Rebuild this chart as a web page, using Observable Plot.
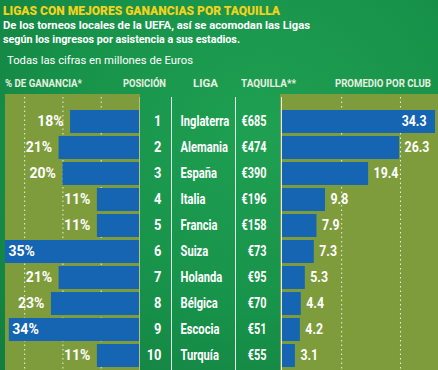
<!DOCTYPE html>
<html>
<head>
<meta charset="utf-8">
<script src="https://cdn.jsdelivr.net/npm/d3@7"></script>
<script src="https://cdn.jsdelivr.net/npm/@observablehq/plot@0.6"></script>
<style>
  html, body { margin: 0; padding: 0; }
  body { width: 438px; height: 370px; overflow: hidden; }
  #root {
    position: relative; width: 438px; height: 370px; overflow: hidden;
    background: radial-gradient(ellipse at 60% 35%, #1fa052 0%, #17924a 55%, #127d3f 100%);
    font-family: Roboto, "Liberation Sans", sans-serif;
    color: #fff;
  }
  .abs { position: absolute; white-space: nowrap; line-height: 1; transform-origin: 0 50%; }
  #title { left: 3px; top: 3.6px; font-size: 13.5px; font-weight: 900; color: #f3d21c; }
  .sub { left: 3px; font-size: 11.5px; font-weight: bold; }
  #note { left: 7px; top: 56.2px; font-size: 10.5px; }
  .hdr { top: 79.2px; font-size: 10.5px; font-weight: bold; color: #e6f0e0; }
  .plot { position: absolute; top: 94px; }
</style>
</head>
<body>
<div id="root">
  <div id="title" class="abs" data-w="277">LIGAS CON MEJORES GANANCIAS POR TAQUILLA</div>
  <div class="abs sub" style="top:20.3px" data-w="307">De los torneos locales de la UEFA, así se acomodan las Ligas</div>
  <div class="abs sub" style="top:33.8px" data-w="237">según los ingresos por asistencia a sus estadios.</div>
  <div id="note" class="abs" data-w="186">Todas las cifras en millones de Euros</div>
  <div class="abs hdr" style="left:5px" data-w="77">% DE GANANCIA*</div>
  <div class="abs hdr" style="left:123px" data-w="43">POSICIÓN</div>
  <div class="abs hdr" style="left:193px" data-w="25">LIGA</div>
  <div class="abs hdr" style="left:241px" data-w="55">TAQUILLA**</div>
  <div class="abs hdr" style="left:335px" data-w="96">PROMEDIO POR CLUB</div>
</div>
<script>
// ---- data ----
const positions = [1, 2, 3, 4, 5, 6, 7, 8, 9, 10];
const leagues = ["Inglaterra", "Alemania", "España", "Italia", "Francia", "Suiza", "Holanda", "Bélgica", "Escocia", "Turquía"];
const gainPct = [18, 21, 20, 11, 11, 35, 21, 23, 34, 11];
const gate = [685, 474, 390, 196, 158, 73, 95, 70, 51, 55];
const avgPerClub = [34.3, 26.3, 19.4, 9.8, 7.9, 7.3, 5.3, 4.4, 4.2, 3.1];
const gainTicks = [10, 20, 30];
const avgTicks = [13.4, 26.5];

const rows = leagues.map((l, i) => ({
  pos: positions[i], liga: l, gain: gainPct[i], gate: gate[i], avg: avgPerClub[i]
}));

// fit HTML texts to the condensed widths of the reference
document.querySelectorAll("[data-w]").forEach(el => {
  const w = el.getBoundingClientRect().width;
  el.style.transform = `scaleX(${(+el.dataset.w / w).toFixed(4)})`;
});

const BLUE = "#1565b2";
const OLIVE = "#7f9c3d";
const H = 276;
const yOpts = {
  type: "band", domain: leagues, axis: null,
  paddingInner: 0.127, paddingOuter: 0.25, align: 0.77
};
const common = {
  height: H, marginTop: 3, marginBottom: 0,
  style: { fontFamily: "Roboto, sans-serif", fontSize: "14px", fontWeight: "bold", color: "white", overflow: "visible", background: "none" }
};
const root = document.getElementById("root");

function condense(svg, k) {
  svg.querySelectorAll("text").forEach(el => {
    const t = el.getAttribute("transform") || "";
    let tx = 0;
    const x = el.getAttribute("x");
    if (x && !/em/.test(x)) { tx += +x; el.removeAttribute("x"); }
    const dx = el.getAttribute("dx");
    if (dx && !/em/.test(dx)) { tx += +dx; el.removeAttribute("dx"); }
    el.setAttribute("transform", `${t} translate(${tx},0) scale(${k},1)`);
  });
}
function place(svg, left, k, bg) {
  condense(svg, k);
  svg.classList.add("plot");
  svg.style.left = left + "px";
  if (bg) svg.style.background = bg;
  root.appendChild(svg);
}

// ---- left: % de ganancia ----
const left = Plot.plot({
  ...common, width: 135, marginLeft: 0, marginRight: 1,
  x: { domain: [0, 35], reverse: true, axis: null },
  y: yOpts,
  marks: [
    Plot.ruleX(gainTicks, { stroke: "white", strokeOpacity: 0.85, strokeDasharray: "1.5,3" }),
    Plot.barX(rows, { x: "gain", y: "liga", fill: BLUE }),
    Plot.ruleX([0], { stroke: "#cfe0b0", strokeOpacity: 0.6 }),
    Plot.text(rows.filter(d => d.gain > 30), { x: "gain", y: "liga", text: d => d.gain + "%", textAnchor: "start", dx: 3, fill: "white" }),
    Plot.text(rows.filter(d => d.gain <= 30), { x: "gain", y: "liga", text: d => d.gain + "%", textAnchor: "end", dx: -7, fill: "white" })
  ]
});
place(left, 5, 1.0, OLIVE);

// ---- middle: posición ----
const posPlot = Plot.plot({
  ...common, width: 30, marginLeft: 0, marginRight: 9,
  y: yOpts,
  marks: [
    Plot.text(rows, { y: "liga", text: d => String(d.pos), frameAnchor: "right", textAnchor: "end", fill: "white" })
  ]
});
place(posPlot, 140, 0.92);

// ---- middle: liga ----
const ligaPlot = Plot.plot({
  ...common, width: 65, marginLeft: 1, marginRight: 0,
  y: yOpts,
  marks: [
    Plot.frame({ anchor: "left", stroke: "white", strokeOpacity: 0.85 }),
    Plot.text(rows, { y: "liga", text: "liga", frameAnchor: "left", textAnchor: "start", dx: 9, fill: "white" })
  ]
});
place(ligaPlot, 169.5, 0.8);

// ---- middle: taquilla ----
const taqPlot = Plot.plot({
  ...common, width: 46, marginLeft: 1, marginRight: 14,
  y: yOpts,
  marks: [
    Plot.frame({ anchor: "left", stroke: "white", strokeOpacity: 0.85 }),
    Plot.text(rows, { y: "liga", text: d => "€" + d.gate, frameAnchor: "right", textAnchor: "end", fill: "white" })
  ]
});
place(taqPlot, 234, 0.78);

// ---- right: promedio por club ----
const right = Plot.plot({
  ...common, width: 158, marginLeft: 1, marginRight: 3,
  x: { domain: [0, 34.3], axis: null },
  y: yOpts,
  marks: [
    Plot.ruleX(avgTicks, { stroke: "white", strokeOpacity: 0.85, strokeDasharray: "1.5,3" }),
    Plot.barX(rows, { x: "avg", y: "liga", fill: BLUE }),
    Plot.ruleX([0], { stroke: "white", strokeOpacity: 0.85 }),
    Plot.text(rows.filter(d => d.avg > 30), { x: "avg", y: "liga", text: d => d.avg.toFixed(1), textAnchor: "end", dx: -9, fill: "white" }),
    Plot.text(rows.filter(d => d.avg <= 30), { x: "avg", y: "liga", text: d => d.avg.toFixed(1), textAnchor: "start", dx: 5, fill: "white" })
  ]
});
place(right, 280, 0.88, OLIVE);
</script>
</body>
</html>
